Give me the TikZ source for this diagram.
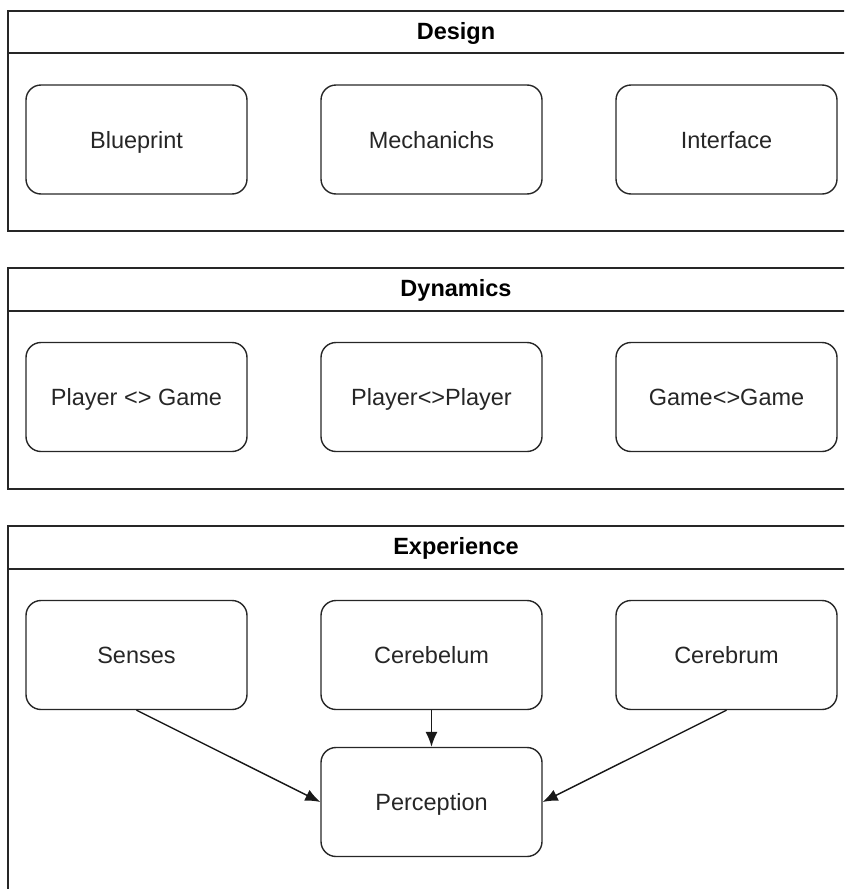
\documentclass[tikz,border=0pt]{standalone}
\usepackage{fontspec}
\setmainfont{Liberation Sans}
\usetikzlibrary{arrows.meta}
\begin{document}
\begin{tikzpicture}[x=1pt,y=1pt,
  every node/.style={font=\fontsize{23.5}{28}\selectfont, text=black!85},
  frame/.style={draw=black!85, line width=1.7pt, fill=none},
  title/.style={font=\fontsize{23.5}{28}\selectfont\bfseries, text=black,
    text height=18pt, text depth=4pt},
  item/.style={draw=black!85, line width=1.4pt, rounded corners=15pt,
    minimum width=221pt, minimum height=109pt, inner sep=0pt,
    text height=19.5pt, text depth=2.5pt},
  link/.style={draw=black!90, line width=1.4pt, -{Latex[length=15pt,width=12pt]}}]
\useasboundingbox (0,0) rectangle (844,-889);
\clip (0,0) rectangle (844,-889);

% Design layer
\draw[frame] (910,-11) -- (8,-11) -- (8,-231) -- (910,-231);
\draw[frame] (8,-53) -- (910,-53);
\node[title] (design) at (456,-32) {Design};
\node[item] (blueprint) at (136.5,-139.5) {Blueprint};
\node[item] (mechanics) at (431.5,-139.5) {Mechanichs};
\node[item] (interface) at (726.5,-139.5) {Interface};

% Dynamics layer
\draw[frame] (910,-268) -- (8,-268) -- (8,-489) -- (910,-489);
\draw[frame] (8,-311) -- (910,-311);
\node[title] (dynamics) at (456,-289.5) {Dynamics};
\node[item] (pg) at (136.5,-397) {Player <> Game};
\node[item] (pp) at (431.5,-397) {Player<>Player};
\node[item] (gg) at (726.5,-397) {Game<>Game};

% Experience layer
\draw[frame] (910,-526) -- (8,-526) -- (8,-900);
\draw[frame] (8,-569) -- (910,-569);
\node[title] (experience) at (456,-547.5) {Experience};
\node[item] (senses) at (136.5,-655) {Senses};
\node[item] (cerebelum) at (431.5,-655) {Cerebelum};
\node[item] (cerebrum) at (726.5,-655) {Cerebrum};
\node[item] (perception) at (431.5,-802) {Perception};

% Connections into perception
\draw[link] (senses.south) -- (perception.west);
\draw[link] (cerebelum.south) -- (perception.north);
\draw[link] (cerebrum.south) -- (perception.east);
\end{tikzpicture}
\end{document}
